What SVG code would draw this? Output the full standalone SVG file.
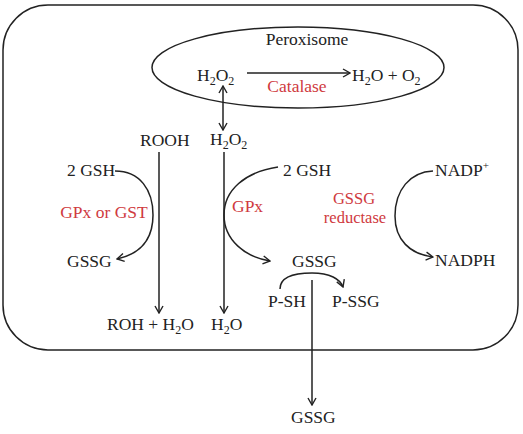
<svg xmlns="http://www.w3.org/2000/svg" width="523" height="434" viewBox="0 0 523 434">
<defs>
<marker id="arr" viewBox="0 0 10 10" refX="9" refY="5" markerWidth="10" markerHeight="10" markerUnits="userSpaceOnUse" orient="auto-start-reverse">
<path d="M2,1 L9,5 L2,9" fill="none" stroke="#222" stroke-width="1.4"/>
</marker>
</defs>
<style>
text{font-family:"Liberation Serif","Times New Roman",serif;font-size:17.5px;fill:#222}
.red{fill:#cf3a40}
.ln{fill:none;stroke:#222;stroke-width:1.5}
.sub{font-size:12px}
.sm{font-size:16.5px}
</style>
<rect width="523" height="434" fill="#fff"/>
<g id="cell"><rect x="3" y="5" width="515" height="345" rx="45" ry="45" class="ln"/></g>
<g id="peroxisome">
<ellipse cx="298" cy="67.5" rx="146" ry="40.5" class="ln"/>
<text x="307" y="45" text-anchor="middle">Peroxisome</text>
</g>
<g id="h2o2-perox"><text x="197" y="81">H<tspan class="sub" dy="4">2</tspan><tspan dy="-4">O</tspan><tspan class="sub" dy="4">2</tspan></text></g>
<g id="h2o-o2"><text x="352" y="81">H<tspan class="sub" dy="4">2</tspan><tspan dy="-4">O + O</tspan><tspan class="sub" dy="4">2</tspan></text></g>
<g id="catalase"><text x="297" y="92" text-anchor="middle" class="red">Catalase</text></g>
<g id="rooh"><text x="140" y="146">ROOH</text></g>
<g id="h2o2"><text x="210" y="145">H<tspan class="sub" dy="4">2</tspan><tspan dy="-4">O</tspan><tspan class="sub" dy="4">2</tspan></text></g>
<g id="gsh-left"><text x="67" y="176">2 GSH</text></g>
<g id="gsh-mid"><text x="283" y="176">2 GSH</text></g>
<g id="nadp"><text x="435" y="176">NADP<tspan font-size="11" dy="-7">+</tspan></text></g>
<g id="gpx-gst"><text x="104" y="218" text-anchor="middle" class="red">GPx or GST</text></g>
<g id="gpx"><text x="232" y="212" class="red">GPx</text></g>
<g id="gssg-reductase"><text x="354" y="204" text-anchor="middle" class="red sm">GSSG</text><text x="355" y="223" text-anchor="middle" class="red sm">reductase</text></g>
<g id="gssg-left"><text x="67" y="267">GSSG</text></g>
<g id="gssg-mid"><text x="292" y="267">GSSG</text></g>
<g id="nadph"><text x="435" y="266">NADPH</text></g>
<g id="psh"><text x="268" y="307">P-SH</text></g>
<g id="pssg"><text x="332" y="307">P-SSG</text></g>
<g id="roh-h2o"><text x="107" y="330">ROH + H<tspan class="sub" dy="4">2</tspan><tspan dy="-4">O</tspan></text></g>
<g id="h2o"><text x="211" y="330">H<tspan class="sub" dy="4">2</tspan><tspan dy="-4">O</tspan></text></g>
<g id="gssg-out"><text x="291" y="423">GSSG</text></g>
<g id="connectors">
<line x1="247" y1="73" x2="350" y2="73" class="ln" marker-end="url(#arr)"/>
<line x1="223" y1="86" x2="223" y2="130" class="ln" marker-start="url(#arr)" marker-end="url(#arr)"/>
<line x1="159" y1="152" x2="159" y2="313" class="ln" marker-end="url(#arr)"/>
<line x1="224" y1="152" x2="224" y2="313" class="ln" marker-end="url(#arr)"/>
<path d="M115,171 C140,171 153,190 153,215 C153,240 140,254 117,259" class="ln" marker-end="url(#arr)"/>
<path d="M278,167 C245,172 224,190 224,215 C224,240 245,257 270,261" class="ln" marker-end="url(#arr)"/>
<path d="M433,171 C410,172 395,190 395,216 C395,240 410,254 433,257" class="ln" marker-end="url(#arr)"/>
<path d="M280,289 C280,276 295,273 312,273 C330,273 340,279 343,287" class="ln" marker-end="url(#arr)"/>
<line x1="312" y1="280" x2="312" y2="405" class="ln" marker-end="url(#arr)"/>
</g>
</svg>
